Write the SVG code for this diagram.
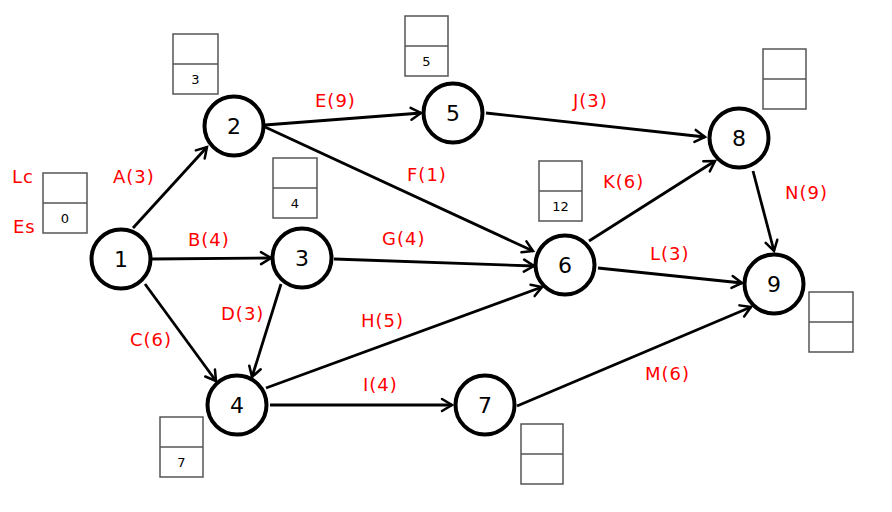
<svg xmlns="http://www.w3.org/2000/svg" width="892" height="512" viewBox="0 0 892 512">
<style>
.node circle{fill:#fff;stroke:#000;stroke-width:4}
.node text{font-family:"DejaVu Sans",sans-serif;font-size:22px;fill:#000;text-anchor:middle;dominant-baseline:central}
.box rect{fill:#fff;stroke:#555;stroke-width:1.5}
.box line{stroke:#555;stroke-width:1.5}
.box text{font-family:"DejaVu Sans",sans-serif;font-size:13px;fill:#000;text-anchor:middle}
.lbl{font-family:"DejaVu Sans",sans-serif;font-size:18px;fill:#f00;letter-spacing:1px}
#edges line{stroke:#000;stroke-width:2.8;marker-end:url(#arr)}
</style>
<defs>
<marker id="arr" viewBox="0 0 16 16" refX="13" refY="8" markerWidth="16" markerHeight="16" markerUnits="userSpaceOnUse" orient="auto">
<path d="M3,2 L13,8 L3,14" fill="none" stroke="#000" stroke-width="2.5" stroke-linecap="round" stroke-linejoin="miter"/>
</marker>
</defs>
<rect width="892" height="512" fill="#fff"/>
<g id="edges">
<line x1="133" y1="228" x2="207" y2="147"/>
<line x1="151" y1="259" x2="271" y2="258"/>
<line x1="145" y1="284" x2="216" y2="381"/>
<line x1="281" y1="284" x2="252" y2="377"/>
<line x1="265" y1="125" x2="421" y2="113"/>
<line x1="265" y1="127" x2="533" y2="251"/>
<line x1="334" y1="259" x2="534" y2="266"/>
<line x1="266" y1="388" x2="542" y2="287"/>
<line x1="270" y1="405" x2="452" y2="405"/>
<line x1="486" y1="113" x2="705" y2="137"/>
<line x1="589" y1="241" x2="715" y2="161"/>
<line x1="598" y1="268" x2="742" y2="283"/>
<line x1="517" y1="406" x2="751" y2="307"/>
<line x1="753" y1="171" x2="774" y2="251"/>
</g>
<g id="labels">
<text class="lbl" x="12" y="183">Lc</text>
<text class="lbl" x="13" y="233">Es</text>
<text class="lbl" x="113" y="183">A(3)</text>
<text class="lbl" x="188" y="246">B(4)</text>
<text class="lbl" x="130" y="346">C(6)</text>
<text class="lbl" x="221" y="320">D(3)</text>
<text class="lbl" x="315" y="107">E(9)</text>
<text class="lbl" x="407" y="181">F(1)</text>
<text class="lbl" x="382" y="245">G(4)</text>
<text class="lbl" x="361" y="327">H(5)</text>
<text class="lbl" x="363" y="391">I(4)</text>
<text class="lbl" x="573" y="107">J(3)</text>
<text class="lbl" x="603" y="188">K(6)</text>
<text class="lbl" x="650" y="260">L(3)</text>
<text class="lbl" x="645" y="380">M(6)</text>
<text class="lbl" x="785" y="199">N(9)</text>
</g>
<g id="box1" class="box"><rect x="43" y="173" width="44" height="60"/><line x1="43" y1="203" x2="87" y2="203"/><text x="65" y="223">0</text></g>
<g id="box2" class="box"><rect x="173" y="34" width="45" height="60"/><line x1="173" y1="64" x2="218" y2="64"/><text x="195.5" y="84">3</text></g>
<g id="box3" class="box"><rect x="273" y="158" width="44" height="60"/><line x1="273" y1="188" x2="317" y2="188"/><text x="295" y="208">4</text></g>
<g id="box4" class="box"><rect x="160" y="417" width="43" height="60"/><line x1="160" y1="447" x2="203" y2="447"/><text x="181.5" y="467">7</text></g>
<g id="box5" class="box"><rect x="405" y="16" width="43" height="60"/><line x1="405" y1="46" x2="448" y2="46"/><text x="426.5" y="66">5</text></g>
<g id="box6" class="box"><rect x="539" y="161" width="43" height="60"/><line x1="539" y1="191" x2="582" y2="191"/><text x="560.5" y="211">12</text></g>
<g id="box7" class="box"><rect x="521" y="424" width="42" height="60"/><line x1="521" y1="454" x2="563" y2="454"/></g>
<g id="box8" class="box"><rect x="763" y="49" width="43" height="60"/><line x1="763" y1="79" x2="806" y2="79"/></g>
<g id="box9" class="box"><rect x="809" y="292" width="44" height="60"/><line x1="809" y1="322" x2="853" y2="322"/></g>
<g id="node1" class="node"><circle cx="121" cy="259" r="29.5"/><text x="121" y="259">1</text></g>
<g id="node2" class="node"><circle cx="234" cy="126" r="29.5"/><text x="234" y="126">2</text></g>
<g id="node3" class="node"><circle cx="302" cy="258" r="29.5"/><text x="302" y="258">3</text></g>
<g id="node4" class="node"><circle cx="237" cy="405" r="29.5"/><text x="237" y="405">4</text></g>
<g id="node5" class="node"><circle cx="453" cy="113" r="29.5"/><text x="453" y="113">5</text></g>
<g id="node6" class="node"><circle cx="565" cy="265" r="29.5"/><text x="565" y="265">6</text></g>
<g id="node7" class="node"><circle cx="485" cy="405" r="29.5"/><text x="485" y="405">7</text></g>
<g id="node8" class="node"><circle cx="739" cy="138" r="29.5"/><text x="739" y="138">8</text></g>
<g id="node9" class="node"><circle cx="774" cy="284" r="29.5"/><text x="774" y="284">9</text></g>
</svg>
